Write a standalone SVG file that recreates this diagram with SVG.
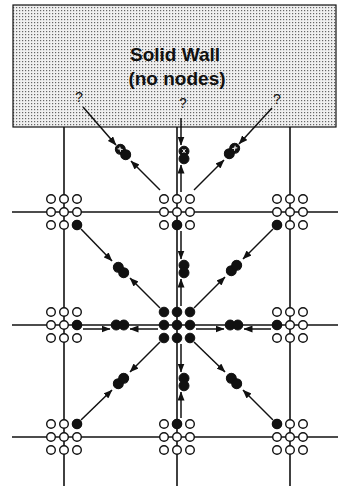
<svg xmlns="http://www.w3.org/2000/svg" width="338" height="486" viewBox="0 0 338 486">
<style>
.grid{stroke:#111;stroke-width:1.6;fill:none}
.o{fill:#fff;stroke:#111;stroke-width:1.4}
.f{fill:#111;stroke:#111;stroke-width:1}
.ar{stroke:#111;stroke-width:1.5;fill:none;marker-end:url(#ah)}
.q{font-family:"Liberation Sans",Arial,sans-serif;font-size:14px;fill:#111;text-anchor:middle}
.t{font-family:"Liberation Sans",Arial,sans-serif;font-size:19px;font-weight:bold;fill:#111;text-anchor:middle}
.hl{stroke:#fff;stroke-width:1;fill:none}
</style>
<defs>
<pattern id="dots" width="3" height="3" patternUnits="userSpaceOnUse">
<rect width="3" height="3" fill="#f0f0f0"/>
<rect x="1" y="1" width="1.2" height="1.2" fill="#666"/>
</pattern>
<marker id="ah" markerWidth="9" markerHeight="7" refX="8.5" refY="3.5" orient="auto" markerUnits="userSpaceOnUse">
<path d="M0,0 L9,3.5 L0,7 Z" fill="#111"/>
</marker>
<g id="n9">
<circle class="o" cx="-13" cy="-13" r="4.3"/><circle class="o" cx="0" cy="-13" r="4.3"/><circle class="o" cx="13" cy="-13" r="4.3"/>
<circle class="o" cx="-13" cy="0" r="4.3"/><circle class="o" cx="0" cy="0" r="4.3"/><circle class="o" cx="13" cy="0" r="4.3"/>
<circle class="o" cx="-13" cy="13" r="4.3"/><circle class="o" cx="0" cy="13" r="4.3"/><circle class="o" cx="13" cy="13" r="4.3"/>
</g>
<g id="pill"><circle class="f" cx="-3.8" cy="0" r="5"/><circle class="f" cx="3.8" cy="0" r="5"/></g>
</defs>

<g id="wall">
<rect x="13" y="5" width="323" height="122" fill="url(#dots)" stroke="#111" stroke-width="1.2"/>
<text class="t" x="175" y="61">Solid Wall</text>
<text class="t" x="177" y="85">(no nodes)</text>
<text class="q" x="79" y="102">?</text>
<text class="q" x="183" y="108">?</text>
<text class="q" x="277" y="104">?</text>
</g>

<g id="gridlines">
<line class="grid" x1="12" y1="212" x2="338" y2="212"/>
<line class="grid" x1="12" y1="325" x2="338" y2="325"/>
<line class="grid" x1="12" y1="437" x2="338" y2="437"/>
<line class="grid" x1="64" y1="127" x2="64" y2="486"/>
<line class="grid" x1="177" y1="127" x2="177" y2="486"/>
<line class="grid" x1="290" y1="127" x2="290" y2="486"/>
</g>

<g id="connectors">
<line class="ar" x1="83" y1="107" x2="116" y2="145"/>
<line class="ar" x1="160" y1="190" x2="131" y2="161"/>
<line class="ar" x1="181" y1="118" x2="181" y2="145"/>
<line class="ar" x1="181" y1="192" x2="181" y2="165"/>
<line class="ar" x1="272" y1="108" x2="239" y2="144"/>
<line class="ar" x1="194" y1="190" x2="224" y2="160"/>
<line class="ar" x1="81" y1="229" x2="112" y2="261"/>
<line class="ar" x1="160" y1="308" x2="130" y2="278"/>
<line class="ar" x1="273" y1="229" x2="243" y2="259"/>
<line class="ar" x1="194" y1="308" x2="225" y2="277"/>
<line class="ar" x1="81" y1="420" x2="112" y2="390"/>
<line class="ar" x1="160" y1="342" x2="130" y2="372"/>
<line class="ar" x1="273" y1="420" x2="243" y2="390"/>
<line class="ar" x1="194" y1="342" x2="225" y2="372"/>
<line class="ar" x1="83" y1="329" x2="110" y2="329"/>
<line class="ar" x1="158" y1="329" x2="130" y2="329"/>
<line class="ar" x1="271" y1="329" x2="244" y2="329"/>
<line class="ar" x1="196" y1="329" x2="224" y2="329"/>
<line class="ar" x1="181" y1="231" x2="181" y2="259"/>
<line class="ar" x1="181" y1="306" x2="181" y2="279"/>
<line class="ar" x1="181" y1="344" x2="181" y2="372"/>
<line class="ar" x1="181" y1="418" x2="181" y2="392"/>
</g>

<g id="pills">
<g id="pw1" transform="translate(123,152) rotate(45)"><use href="#pill"/><path class="hl" d="M-6,-1.5 L-2,1.5 M-6,1.5 L-2,-1.5"/></g>
<g id="pw2" transform="translate(184,155) rotate(90)"><use href="#pill"/><path class="hl" d="M-6,-1.5 L-2,1.5 M-6,1.5 L-2,-1.5"/></g>
<g id="pw3" transform="translate(232,151) rotate(-45)"><use href="#pill"/><path class="hl" d="M2,-1.5 L6,1.5 M2,1.5 L6,-1.5"/></g>
<g id="p1" transform="translate(121,270) rotate(45)"><use href="#pill"/></g>
<g id="p2" transform="translate(184,269) rotate(90)"><use href="#pill"/></g>
<g id="p3" transform="translate(234,268) rotate(-45)"><use href="#pill"/></g>
<g id="p4" transform="translate(120,325)"><use href="#pill"/></g>
<g id="p5" transform="translate(234,325)"><use href="#pill"/></g>
<g id="p6" transform="translate(121,381) rotate(-45)"><use href="#pill"/></g>
<g id="p7" transform="translate(184,382) rotate(90)"><use href="#pill"/></g>
<g id="p8" transform="translate(234,381) rotate(45)"><use href="#pill"/></g>
</g>

<g id="node-tl" transform="translate(64,212)"><use href="#n9"/><circle class="f" cx="13" cy="13" r="4.8"/></g>
<g id="node-tc" transform="translate(177,212)"><use href="#n9"/><circle class="f" cx="0" cy="13" r="4.8"/></g>
<g id="node-tr" transform="translate(290,212)"><use href="#n9"/><circle class="f" cx="-13" cy="13" r="4.8"/></g>
<g id="node-ml" transform="translate(64,325)"><use href="#n9"/><circle class="f" cx="13" cy="0" r="4.8"/></g>
<g id="node-c" transform="translate(177,325)">
<circle class="f" cx="-13" cy="-13" r="4.8"/><circle class="f" cx="0" cy="-13" r="4.8"/><circle class="f" cx="13" cy="-13" r="4.8"/>
<circle class="f" cx="-13" cy="0" r="4.8"/><circle class="f" cx="0" cy="0" r="4.8"/><circle class="f" cx="13" cy="0" r="4.8"/>
<circle class="f" cx="-13" cy="13" r="4.8"/><circle class="f" cx="0" cy="13" r="4.8"/><circle class="f" cx="13" cy="13" r="4.8"/>
</g>
<g id="node-mr" transform="translate(290,325)"><use href="#n9"/><circle class="f" cx="-13" cy="0" r="4.8"/></g>
<g id="node-bl" transform="translate(64,437)"><use href="#n9"/><circle class="f" cx="13" cy="-13" r="4.8"/></g>
<g id="node-bc" transform="translate(177,437)"><use href="#n9"/><circle class="f" cx="0" cy="-13" r="4.8"/></g>
<g id="node-br" transform="translate(290,437)"><use href="#n9"/><circle class="f" cx="-13" cy="-13" r="4.8"/></g>
</svg>
